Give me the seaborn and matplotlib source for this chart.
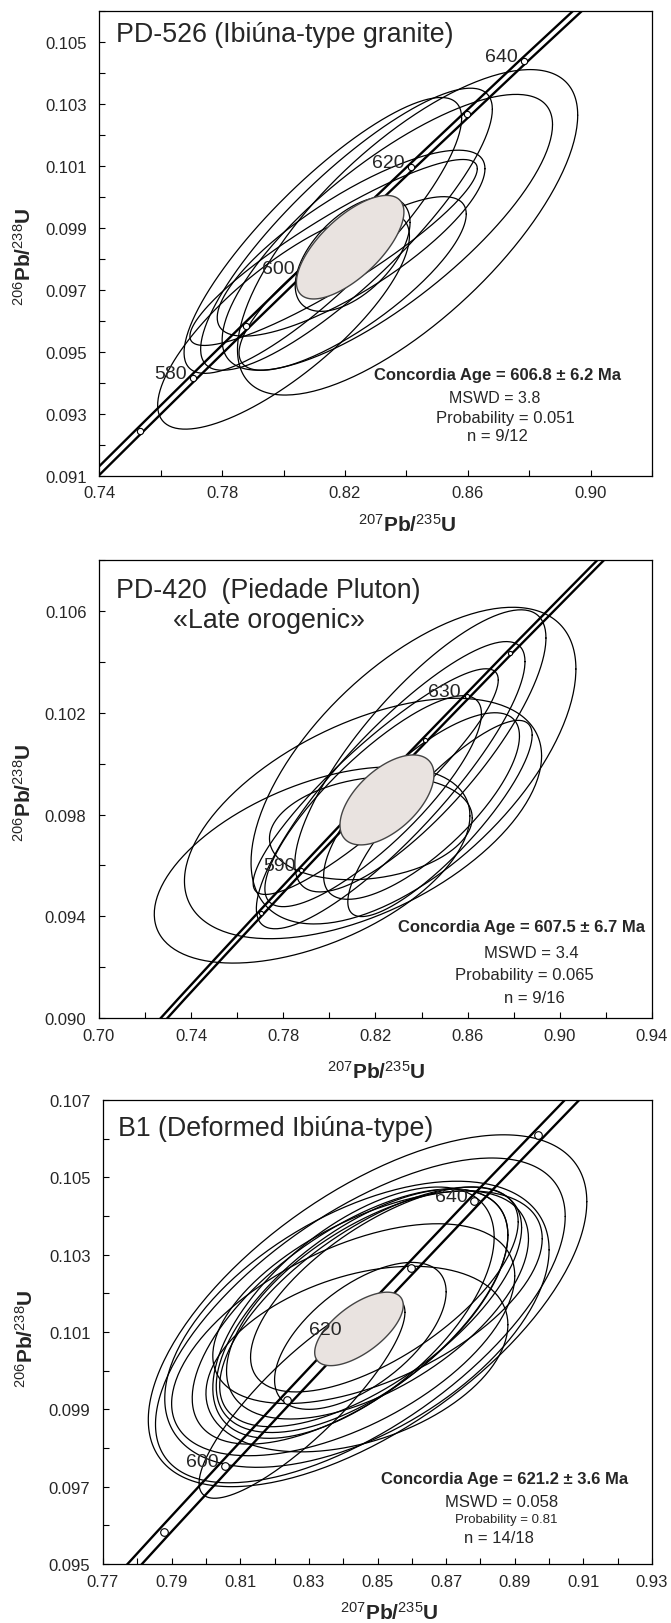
import numpy as np
import matplotlib
matplotlib.use("Agg")
import matplotlib.pyplot as plt
import seaborn as sns

sns.set_style("ticks")
plt.rcParams["font.family"] = ["Liberation Sans", "DejaVu Sans"]
plt.rcParams["mathtext.fontset"] = "custom"
plt.rcParams["mathtext.rm"] = "Liberation Sans"
plt.rcParams["mathtext.bf"] = "Liberation Sans:bold"
plt.rcParams["mathtext.default"] = "rm"

# concordia curve: age (Ma), 207Pb/235U, 206Pb/238U
conc_age = [530, 540, 550, 560, 570, 580, 590, 600, 610, 620, 630, 640, 650, 660, 670]
conc_x = [0.6853, 0.7020, 0.7189, 0.7359, 0.7531, 0.7704, 0.7879, 0.8056, 0.8235,
          0.8415, 0.8598, 0.8782, 0.8968, 0.9155, 0.9345]
conc_y = [0.08569, 0.08738, 0.08906, 0.09076, 0.09245, 0.09414, 0.09584, 0.09754,
          0.09925, 0.10095, 0.10266, 0.10438, 0.10609, 0.10781, 0.10953]

# panel 1 : PD-526
p1_cx = [0.8404, 0.8338, 0.8205, 0.8128, 0.8220, 0.8163, 0.8225, 0.8000, 0.8225]
p1_cy = [0.09885, 0.09885, 0.09895, 0.09875, 0.0985, 0.0982, 0.09815, 0.0960, 0.0972]
p1_ex = [0.0554, 0.0538, 0.0475, 0.0452, 0.0436, 0.0468, 0.0187, 0.0410, 0.0370]
p1_ey = [0.00525, 0.00445, 0.00455, 0.00445, 0.0030, 0.0030, 0.00185, 0.0035, 0.0028]
p1_rho = [0.72, 0.78, 0.85, 0.85, 0.80, 0.90, 0.55, 0.78, 0.80]
p1_mean = [0.8217, 0.09837, 0.0175, 0.00167, 0.68]
p1_marks = [570, 580, 590, 600, 610, 620, 630, 640]
p1_labels = [580, 600, 620, 640]
p1_stats = ["Concordia Age = 606.8 \u00b1 6.2 Ma", "MSWD = 3.8", "Probability = 0.051", "n = 9/12"]
p1_title = ["PD-526 (Ibi\u00fana-type granite)"]

# panel 2 : PD-420
p2_cx = [0.7925, 0.8146, 0.8365, 0.8395, 0.8266, 0.8201, 0.8190, 0.8400, 0.8180, 0.8480]
p2_cy = [0.09602, 0.09785, 0.09993, 0.10051, 0.09916, 0.09930, 0.09853, 0.09834, 0.09747, 0.09785]
p2_ex = [0.0685, 0.0775, 0.0705, 0.0545, 0.0583, 0.0532, 0.0470, 0.0425, 0.0440, 0.0400]
p2_ey = [0.00386, 0.00473, 0.00623, 0.00555, 0.00565, 0.00444, 0.00415, 0.00367, 0.00203, 0.00386]
p2_rho = [0.50, 0.52, 0.61, 0.80, 0.86, 0.90, 0.83, 0.75, 0.20, 0.85]
p2_mean = [0.8250, 0.09858, 0.0204, 0.00177, 0.56]
p2_marks = [580, 590, 600, 610, 620, 630, 640]
p2_labels = [590, 630]
p2_stats = ["Concordia Age = 607.5 \u00b1 6.7 Ma", "MSWD = 3.4", "Probability = 0.065", "n = 9/16"]
p2_title = ["PD-420  (Piedade Pluton)", "\u00abLate orogenic\u00bb"]

# panel 3 : B1
p3_cx = [0.8471, 0.8450, 0.8440, 0.8480, 0.8455, 0.8430, 0.8500, 0.8420, 0.8440, 0.8450,
         0.8280, 0.8500, 0.8400, 0.8520]
p3_cy = [0.10155, 0.10130, 0.10120, 0.10165, 0.10155, 0.10150, 0.10170, 0.10140, 0.10030,
         0.10090, 0.09930, 0.10190, 0.10080, 0.10210]
p3_ex = [0.0639, 0.0597, 0.0560, 0.0440, 0.0425, 0.0410, 0.0440, 0.0460, 0.0440, 0.0250,
         0.0300, 0.0480, 0.0500, 0.0390]
p3_ey = [0.00455, 0.00420, 0.00370, 0.00310, 0.00315, 0.00325, 0.00295, 0.00330, 0.00240,
         0.00190, 0.00260, 0.00275, 0.00300, 0.00265]
p3_rho = [0.62, 0.64, 0.52, 0.66, 0.62, 0.60, 0.58, 0.64, 0.37, 0.60, 0.85, 0.55, 0.55, 0.66]
p3_mean = [0.8446, 0.10108, 0.0129, 0.00095, 0.64]
p3_marks = [580, 590, 600, 610, 620, 630, 640, 650]
p3_labels = [600, 620, 640]
p3_stats = ["Concordia Age = 621.2 \u00b1 3.6 Ma", "MSWD = 0.058", "Probability = 0.81", "n = 14/18"]
p3_title = ["B1 (Deformed Ibi\u00fana-type)"]


def outline(cx, cy, ex, ey, rho, n=240):
    t = np.linspace(0, 2 * np.pi, n)
    x = cx + ex * np.cos(t)
    y = cy + ey * (rho * np.cos(t) + np.sqrt(1 - rho ** 2) * np.sin(t))
    return x, y


def panel(ax, cx, cy, ex, ey, rho, mean, marks, labels, band, xlim, ylim,
          xmaj, xmin_, ymaj, ymin_, mark_size, xlab_pos, ylab_pos):
    for i in range(len(cx)):
        x, y = outline(cx[i], cy[i], ex[i], ey[i], rho[i])
        ax.plot(x, y, color="black", lw=0.9, zorder=2)

    cx_arr = np.array(conc_x)
    for off in (-band, band):
        sns.lineplot(x=cx_arr + off, y=conc_y, sort=False, estimator=None,
                     color="black", lw=1.7, ax=ax, zorder=3)
    mx = [conc_x[conc_age.index(a)] for a in marks]
    my = [conc_y[conc_age.index(a)] for a in marks]
    ax.plot(mx, my, ls="none", marker="o", ms=mark_size, mfc="white",
            mec="black", mew=0.8, zorder=4)

    x, y = outline(*mean)
    ax.fill(x, y, facecolor="#e9e3e0", edgecolor="#444444", lw=1.0, zorder=5)

    for a in labels:
        i = conc_age.index(a)
        ax.annotate(str(a), (conc_x[i], conc_y[i]), xytext=(-4.5, 0),
                    textcoords="offset points", ha="right", va="baseline",
                    fontsize=14, zorder=6)

    ax.set_xlim(*xlim)
    ax.set_ylim(*ylim)
    ax.set_xticks(xmaj)
    ax.set_xticks(xmin_, minor=True)
    ax.set_yticks(ymaj)
    ax.set_yticks(ymin_, minor=True)
    ax.set_xticklabels([f"{v:.2f}" for v in xmaj])
    ax.set_yticklabels([f"{v:.3f}" for v in ymaj])
    ax.tick_params(which="both", direction="in", length=4, width=0.8,
                   labelsize=12, color="black")
    ax.tick_params(axis="x", pad=7)
    ax.tick_params(axis="y", pad=9)
    for s in ax.spines.values():
        s.set_linewidth(0.9)
        s.set_color("black")
    ax.set_xlabel(r"$^{207}\mathbf{Pb/}^{235}\mathbf{U}$", fontsize=15)
    ax.set_ylabel(r"$^{206}\mathbf{Pb/}^{238}\mathbf{U}$", fontsize=15)
    ax.xaxis.set_label_coords(*xlab_pos)
    ax.xaxis.label.set_va("center")
    ax.yaxis.set_label_coords(*ylab_pos)
    ax.yaxis.label.set_va("center")


def stats(ax, lines, xs, ys, sizes):
    for k, s in enumerate(lines):
        ax.text(xs[k], ys[k], s, transform=ax.transAxes, ha="center", va="center",
                fontsize=sizes[k], fontweight="bold" if k == 0 else "normal", zorder=7)


fig = plt.figure(figsize=(6.71, 16.24), dpi=100)
fig.patch.set_facecolor("white")

ax1 = fig.add_axes([0.148, 0.7065, 0.8237, 0.2863])
panel(ax1, p1_cx, p1_cy, p1_ex, p1_ey, p1_rho, p1_mean, p1_marks, p1_labels, 0.00145,
      (0.74, 0.92), (0.091, 0.106),
      [0.74, 0.78, 0.82, 0.86, 0.90], [0.76, 0.80, 0.84, 0.88, 0.92],
      [0.091, 0.093, 0.095, 0.097, 0.099, 0.101, 0.103, 0.105],
      [0.092, 0.094, 0.096, 0.098, 0.100, 0.102, 0.104, 0.106], 4.5,
      (0.5576, -0.1032), (-0.136, 0.4725))
ax1.text(0.0295, 0.949, p1_title[0], transform=ax1.transAxes, fontsize=19.3,
         ha="left", va="center")
stats(ax1, p1_stats, [0.72, 0.715, 0.735, 0.72], [0.2166, 0.169, 0.126, 0.0854],
      [12, 11.5, 12, 12])

ax2 = fig.add_axes([0.1475, 0.37254, 0.8241, 0.28171])
panel(ax2, p2_cx, p2_cy, p2_ex, p2_ey, p2_rho, p2_mean, p2_marks, p2_labels, 0.00145,
      (0.70, 0.94), (0.090, 0.108),
      [0.70, 0.74, 0.78, 0.82, 0.86, 0.90, 0.94], [0.72, 0.76, 0.80, 0.84, 0.88, 0.92],
      [0.090, 0.094, 0.098, 0.102, 0.106],
      [0.092, 0.096, 0.100, 0.104, 0.108], 3.0,
      (0.502, -0.1152), (-0.136, 0.494))
ax2.text(0.0315, 0.935, p2_title[0], transform=ax2.transAxes, fontsize=19.3,
         ha="left", va="center")
ax2.text(0.1347, 0.870, p2_title[1], transform=ax2.transAxes, fontsize=19.3,
         ha="left", va="center")
stats(ax2, p2_stats, [0.765, 0.782, 0.769, 0.788], [0.201, 0.144, 0.096, 0.0446],
      [12, 12, 12, 12])

ax3 = fig.add_axes([0.1535, 0.03633, 0.8182, 0.28571])
panel(ax3, p3_cx, p3_cy, p3_ex, p3_ey, p3_rho, p3_mean, p3_marks, p3_labels, 0.0021,
      (0.77, 0.93), (0.095, 0.107),
      [0.77, 0.79, 0.81, 0.83, 0.85, 0.87, 0.89, 0.91, 0.93],
      [0.78, 0.80, 0.82, 0.84, 0.86, 0.88, 0.90, 0.92],
      [0.095, 0.097, 0.099, 0.101, 0.103, 0.105, 0.107],
      [0.096, 0.098, 0.100, 0.102, 0.104, 0.106], 5.5,
      (0.5215, -0.1034), (-0.140, 0.488))
ax3.text(0.027, 0.94, p3_title[0], transform=ax3.transAxes, fontsize=19.3,
         ha="left", va="center")
stats(ax3, p3_stats, [0.732, 0.726, 0.734, 0.721], [0.184, 0.1345, 0.097, 0.058],
      [12, 12, 9.5, 12])

fig.savefig("out.png", dpi=100)
